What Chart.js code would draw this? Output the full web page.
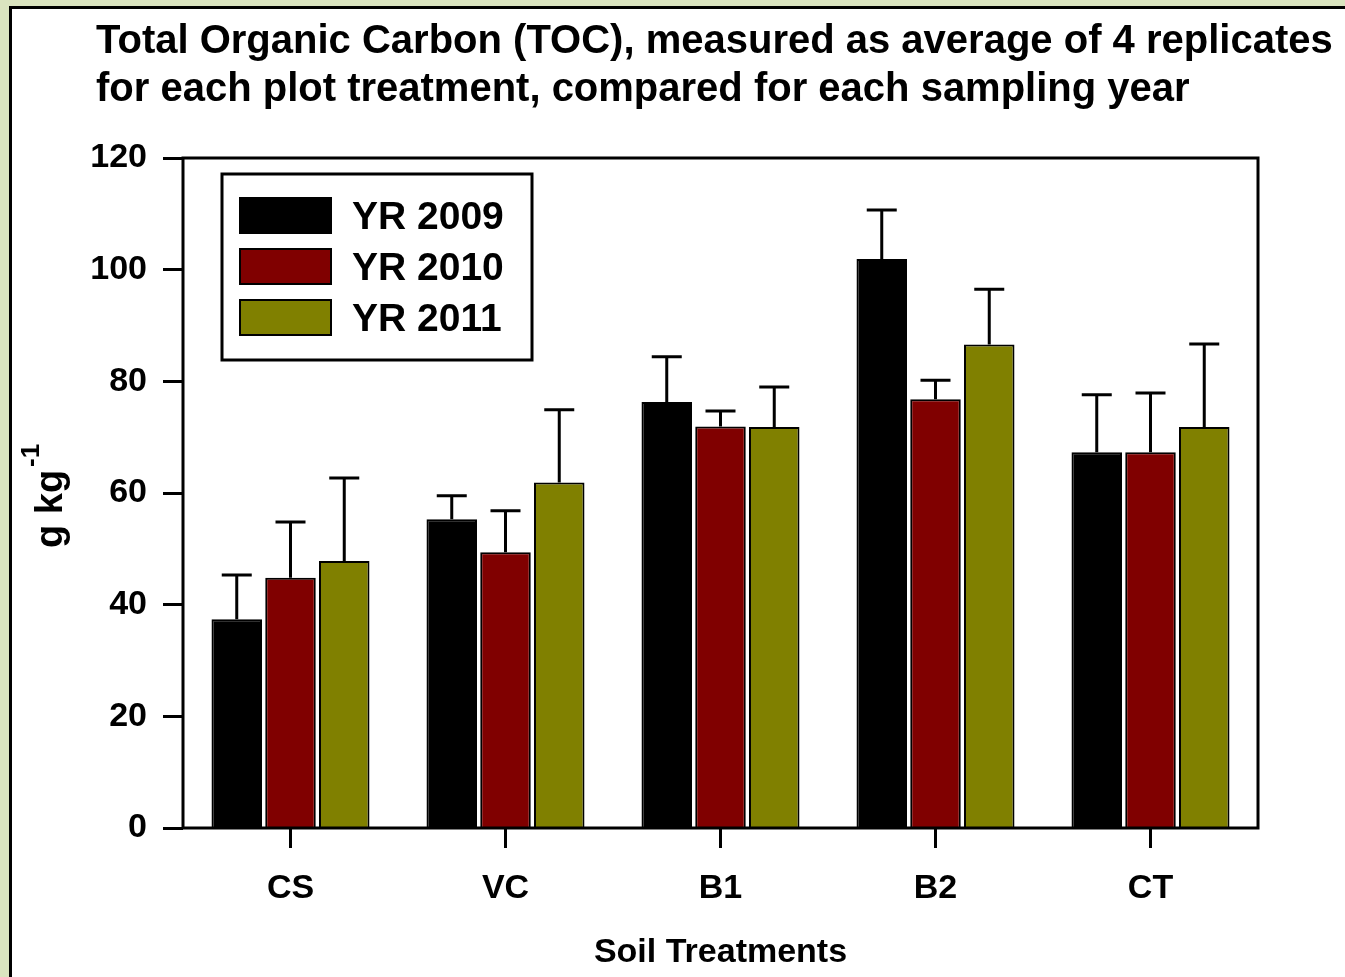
<!DOCTYPE html>
<html>
<head>
<meta charset="utf-8">
<title>TOC by soil treatment</title>
<script src="https://cdn.jsdelivr.net/npm/chart.js@4.4.1/dist/chart.umd.min.js"></script>
<style>
  html, body { margin: 0; padding: 0; overflow: hidden; background: #dae4bf; }
  #frame {
    position: absolute; left: 9px; top: 6px; width: 2000px; height: 2000px;
    background: #ffffff; border: 3px solid #000000;
  }
  #wrap { position: absolute; left: 0; top: 0; width: 1345px; height: 977px; }
</style>
</head>
<body>
<div id="frame"></div>
<div id="wrap"><canvas id="tocChart" width="1345" height="977"></canvas></div>
<script>
const tocChart = document.querySelector("#tocChart");

const treatments = ["CS", "VC", "B1", "B2", "CT"];
const yearLabels = ["YR 2009", "YR 2010", "YR 2011"];
const colors = ["#000000", "#800000", "#808000"];

// mean TOC (g/kg)
const toc2009 = [37.4, 55.3, 76.3, 101.9, 67.3];
const toc2010 = [44.8, 49.4, 71.9, 76.8, 67.3];
const toc2011 = [47.8, 61.9, 71.8, 86.6, 71.8];

// upper error (g/kg)
const err2009 = [7.9, 4.2, 8.1, 8.8, 10.3];
const err2010 = [10.0, 7.4, 2.8, 3.4, 10.6];
const err2011 = [14.9, 13.0, 7.2, 9.9, 14.9];

const yTicks = [0, 20, 40, 60, 80, 100, 120];

const titleLines = [
  "Total Organic Carbon (TOC), measured as average of 4 replicates",
  "for each plot treatment, compared for each sampling year",
];
const yTitle = "g kg";
const yTitleSup = "-1";

const FONT = "'Liberation Sans', Arial, sans-serif";

//draws upward error bars with caps
const errorBars = {
  id: "errorBars",
  afterDatasetsDraw(chart) {
    const ctx = chart.ctx;
    const y = chart.scales.y;
    ctx.save();
    ctx.strokeStyle = "#000";
    ctx.lineWidth = 3;
    chart.data.datasets.forEach((ds, i) => {
      const meta = chart.getDatasetMeta(i);
      meta.data.forEach((bar, j) => {
        const top = y.getPixelForValue(ds.data[j] + ds.errors[j]);
        ctx.beginPath();
        ctx.moveTo(bar.x, bar.y);
        ctx.lineTo(bar.x, top);
        ctx.moveTo(bar.x - 15, top);
        ctx.lineTo(bar.x + 15, top);
        ctx.stroke();
      });
    });
    ctx.restore();
  },
};

//plot frame, title, y label and legend
const decorations = {
  id: "decorations",
  afterDraw(chart) {
    const ctx = chart.ctx;
    const a = chart.chartArea;
    ctx.save();
    ctx.strokeStyle = "#000";
    ctx.lineWidth = 3;
    ctx.strokeRect(a.left, a.top, a.right - a.left, a.bottom - a.top);

    ctx.fillStyle = "#000";
    ctx.font = "bold 40px " + FONT;
    ctx.textBaseline = "alphabetic";
    ctx.textAlign = "left";
    titleLines.forEach((line, i) => ctx.fillText(line, 96, 53 + i * 48));

    // y label with superscript
    ctx.save();
    ctx.translate(62, 548);
    ctx.rotate(-Math.PI / 2);
    ctx.font = "bold 38px " + FONT;
    ctx.fillText(yTitle, 0, 0);
    const w = ctx.measureText(yTitle).width;
    ctx.font = "bold 26px " + FONT;
    ctx.fillText(yTitleSup, w + 3, -23);
    ctx.restore();

    const lx = a.left + 39;
    const ly = a.top + 16;
    ctx.strokeRect(lx, ly, 310, 186);
    ctx.font = "bold 39px " + FONT;
    ctx.textBaseline = "middle";
    ctx.lineWidth = 2;
    chart.data.datasets.forEach((ds, i) => {
      const ry = ly + 24 + i * 51;
      ctx.fillStyle = ds.backgroundColor;
      ctx.fillRect(lx + 18, ry, 91, 35);
      ctx.strokeRect(lx + 18, ry, 91, 35);
      ctx.fillStyle = "#000";
      ctx.fillText(ds.label, lx + 130, ry + 20);
    });
    ctx.restore();
  },
};

const makeSet = (i, values, errors) => ({
  label: yearLabels[i],
  data: values,
  errors: errors,
  backgroundColor: colors[i],
  borderColor: "#000",
  borderWidth: 2,
  categoryPercentage: 0.75,
  barPercentage: 0.94,
});

new Chart(tocChart, {
  type: "bar",
  data: {
    labels: treatments,
    datasets: [
      makeSet(0, toc2009, err2009),
      makeSet(1, toc2010, err2010),
      makeSet(2, toc2011, err2011),
    ],
  },
  options: {
    responsive: false,
    animation: false,
    layout: { padding: { left: 0, top: 158, right: 87, bottom: 0 } },
    plugins: {
      legend: { display: false },
      title: { display: false },
      tooltip: { enabled: false },
    },
    scales: {
      x: {
        border: { display: false },
        grid: {
          offset: false,
          drawOnChartArea: false,
          drawTicks: true,
          tickLength: 20,
          tickWidth: 3,
          tickColor: "#000",
        },
        ticks: { color: "#000", padding: 20, font: { family: FONT, size: 34, weight: "bold" } },
        title: {
          display: true,
          text: "Soil Treatments",
          color: "#000",
          padding: { top: 0, bottom: 4 },
          font: { family: FONT, size: 34, weight: "bold" },
        },
        afterFit: (scale) => { scale.height = 149; },
      },
      y: {
        min: 0,
        max: 120,
        border: { display: false },
        grid: {
          drawOnChartArea: false,
          drawTicks: true,
          tickLength: 20,
          tickWidth: 3,
          tickColor: "#000",
        },
        afterBuildTicks: (scale) => { scale.ticks = yTicks.map((v) => ({ value: v })); },
        ticks: { color: "#000", padding: 16, font: { family: FONT, size: 34, weight: "bold" } },
        afterFit: (scale) => { scale.width = 183; },
      },
    },
  },
  plugins: [errorBars, decorations],
});
</script>
</body>
</html>
